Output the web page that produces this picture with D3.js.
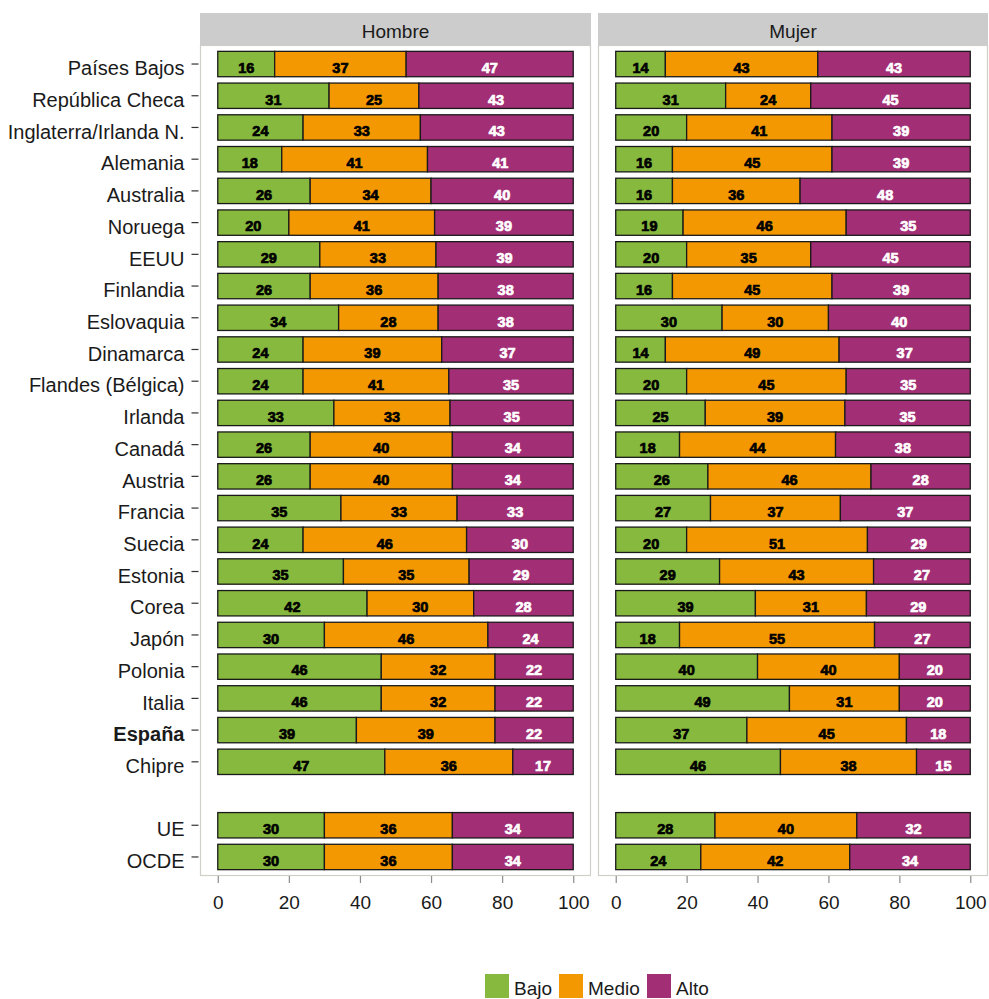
<!DOCTYPE html>
<html>
<head>
<meta charset="utf-8">
<script src="https://cdn.jsdelivr.net/npm/d3@7"></script>
<style>
  html, body { margin: 0; padding: 0; background: #ffffff; }
  svg { display: block; }
</style>
</head>
<body>
<svg id="chart" width="989" height="999"></svg>
<script>
// ---------- DATA ----------
const countries = ["Países Bajos", "República Checa", "Inglaterra/Irlanda N.", "Alemania", "Australia",
  "Noruega", "EEUU", "Finlandia", "Eslovaquia", "Dinamarca", "Flandes (Bélgica)", "Irlanda", "Canadá",
  "Austria", "Francia", "Suecia", "Estonia", "Corea", "Japón", "Polonia", "Italia", "España", "Chipre",
  "UE", "OCDE"];
const panels = ["Hombre", "Mujer"];
const levels = ["Bajo", "Medio", "Alto"];
const tickValues = [0, 20, 40, 60, 80, 100];

const hombreBajo  = [16, 31, 24, 18, 26, 20, 29, 26, 34, 24, 24, 33, 26, 26, 35, 24, 35, 42, 30, 46, 46, 39, 47, 30, 30];
const hombreMedio = [37, 25, 33, 41, 34, 41, 33, 36, 28, 39, 41, 33, 40, 40, 33, 46, 35, 30, 46, 32, 32, 39, 36, 36, 36];
const hombreAlto  = [47, 43, 43, 41, 40, 39, 39, 38, 38, 37, 35, 35, 34, 34, 33, 30, 29, 28, 24, 22, 22, 22, 17, 34, 34];

const mujerBajo  = [14, 31, 20, 16, 16, 19, 20, 16, 30, 14, 20, 25, 18, 26, 27, 20, 29, 39, 18, 40, 49, 37, 46, 28, 24];
const mujerMedio = [43, 24, 41, 45, 36, 46, 35, 45, 30, 49, 45, 39, 44, 46, 37, 51, 43, 31, 55, 40, 31, 45, 38, 40, 42];
const mujerAlto  = [43, 45, 39, 39, 48, 35, 45, 39, 40, 37, 35, 35, 38, 28, 37, 29, 27, 29, 27, 20, 20, 18, 15, 32, 34];

const colors = { Bajo: "#86b93d", Medio: "#f39800", Alto: "#a22e76" };
const textColors = { Bajo: "#000000", Medio: "#000000", Alto: "#ffffff" };

// ---------- LAYOUT ----------
const svg = d3.select("#chart");
const W = 989, H = 999;
svg.append("rect").attr("width", W).attr("height", H).attr("fill", "#ffffff");

const SPACER = "__spacer__";
const rowKeys = countries.slice(0, 23).concat([SPACER]).concat(countries.slice(23));

const panelTop = 45, panelBottom = 876, stripTop = 13;
const y = d3.scaleBand().domain(rowKeys).range([panelTop, panelBottom])
  .paddingInner(0.2).paddingOuter(0.2);

const panelX = { Hombre: [200, 591], Mujer: [598, 988] };
const seriesData = {
  Hombre: { Bajo: hombreBajo, Medio: hombreMedio, Alto: hombreAlto },
  Mujer:  { Bajo: mujerBajo,  Medio: mujerMedio,  Alto: mujerAlto }
};

const fontFam = "'Liberation Sans', Arial, Helvetica, sans-serif";

panels.forEach(p => {
  const [x0, x1] = panelX[p];
  const x = d3.scaleLinear().domain([-0.05, 1.05]).range([x0, x1]);
  const g = svg.append("g");

  // strip
  g.append("rect").attr("x", x0).attr("y", stripTop).attr("width", x1 - x0).attr("height", panelTop - stripTop)
    .attr("fill", "#cccccc");
  g.append("text").attr("x", (x0 + x1) / 2).attr("y", 38).attr("text-anchor", "middle")
    .attr("font-family", fontFam).attr("font-size", 19).attr("fill", "#1a1a1a").text(p);

  // panel background & border
  g.append("rect").attr("x", x0 + 0.5).attr("y", panelTop + 0.5).attr("width", x1 - x0 - 1)
    .attr("height", panelBottom - panelTop - 1).attr("fill", "#ffffff")
    .attr("stroke", "#cfcfc8").attr("stroke-width", 1.2);

  // table for the stack
  const table = countries.map((c, i) => ({
    country: c,
    Bajo: seriesData[p].Bajo[i], Medio: seriesData[p].Medio[i], Alto: seriesData[p].Alto[i]
  }));
  const stacked = d3.stack().keys(levels).offset(d3.stackOffsetExpand)(table);

  stacked.forEach(layer => {
    const lg = g.append("g");
    lg.selectAll("rect").data(layer).join("rect")
      .attr("x", d => x(d[0]))
      .attr("y", d => y(d.data.country))
      .attr("width", d => x(d[1]) - x(d[0]))
      .attr("height", y.bandwidth())
      .attr("fill", colors[layer.key])
      .attr("stroke", "#1a1a1a").attr("stroke-width", 1.3);
  });
  stacked.forEach(layer => {
    const lg = g.append("g");
    lg.selectAll("text").data(layer).join("text")
      .attr("x", d => (x(d[0]) + x(d[1])) / 2)
      .attr("y", d => y(d.data.country) + y.bandwidth() / 2 + 8.8)
      .attr("text-anchor", "middle")
      .attr("font-family", fontFam).attr("font-weight", "bold").attr("font-size", 14.5)
      .attr("fill", textColors[layer.key])
      .attr("stroke", textColors[layer.key]).attr("stroke-width", 0.7)
      .text(d => d.data[layer.key]);
  });

  // x axis
  const axis = d3.axisBottom(x).tickValues(tickValues.map(v => v / 100))
    .tickFormat(v => d3.format("d")(Math.round(v * 100))).tickSize(7).tickPadding(8);
  const ax = svg.append("g").attr("transform", `translate(0,${panelBottom})`).call(axis);
  ax.select(".domain").remove();
  ax.selectAll(".tick line").attr("stroke", "#8c8c8c").attr("stroke-width", 1.2);
  ax.selectAll(".tick text").attr("font-family", fontFam).attr("font-size", 19)
    .attr("fill", "#1a1a1a").attr("dy", null).attr("y", 33);
});

// y axis (left)
const yAxis = d3.axisLeft(y).tickValues(countries).tickSize(7).tickPadding(7);
const yg = svg.append("g").attr("transform", "translate(198.5,0)").call(yAxis);
yg.select(".domain").remove();
yg.selectAll(".tick line").attr("stroke", "#333333").attr("stroke-width", 1.2);
yg.selectAll(".tick text").attr("font-family", fontFam).attr("font-size", 20)
  .attr("fill", "#1a1a1a").attr("dy", "0.56em")
  .attr("font-weight", d => d === "España" ? "bold" : "normal");

// legend
const legendItems = [
  { key: "Bajo", x: 485 }, { key: "Medio", x: 559 }, { key: "Alto", x: 647 }
];
const leg = svg.append("g");
legendItems.forEach(it => {
  leg.append("rect").attr("x", it.x).attr("y", 974).attr("width", 24).attr("height", 24)
    .attr("fill", colors[it.key]);
  leg.append("text").attr("x", it.x + 29).attr("y", 995).attr("font-family", fontFam)
    .attr("font-size", 19).attr("fill", "#1a1a1a").text(it.key);
});
</script>
</body>
</html>
